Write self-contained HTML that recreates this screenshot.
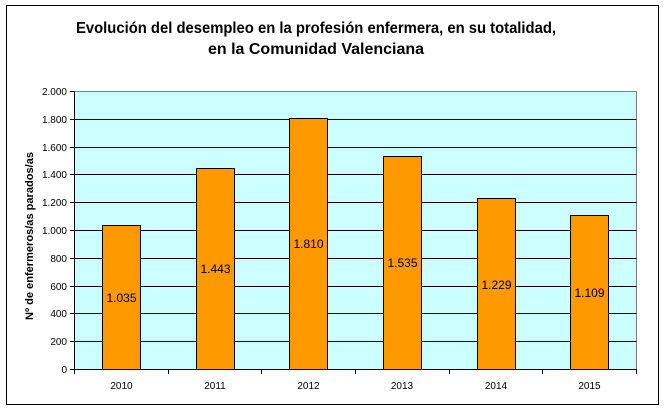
<!DOCTYPE html>
<html><head><meta charset="utf-8"><style>
html,body{margin:0;padding:0;background:#fff}
svg{display:block;font-family:"Liberation Sans",Arial,sans-serif}
</style></head><body>
<svg width="666" height="412" viewBox="0 0 666 412">
<rect x="6.5" y="5.5" width="652" height="399" fill="#fff" stroke="#000"/>
<text x="316" y="33" font-size="16" font-weight="bold" text-anchor="middle" textLength="480" lengthAdjust="spacingAndGlyphs">Evolución del desempleo en la profesión enfermera, en su totalidad,</text>
<text x="316" y="54" font-size="16" font-weight="bold" text-anchor="middle">en la Comunidad Valenciana</text>
<rect x="74.5" y="91.5" width="562" height="278" fill="#ccffff" stroke="#808080"/>
<g stroke="#000" stroke-width="1">
<line x1="74.5" x2="636.5" y1="119.5" y2="119.5"/>
<line x1="74.5" x2="636.5" y1="147.5" y2="147.5"/>
<line x1="74.5" x2="636.5" y1="174.5" y2="174.5"/>
<line x1="74.5" x2="636.5" y1="202.5" y2="202.5"/>
<line x1="74.5" x2="636.5" y1="230.5" y2="230.5"/>
<line x1="74.5" x2="636.5" y1="258.5" y2="258.5"/>
<line x1="74.5" x2="636.5" y1="286.5" y2="286.5"/>
<line x1="74.5" x2="636.5" y1="313.5" y2="313.5"/>
<line x1="74.5" x2="636.5" y1="341.5" y2="341.5"/>
<line x1="74.5" x2="74.5" y1="91.5" y2="369.5"/>
<line x1="74.5" x2="636.5" y1="369.5" y2="369.5"/>
</g>
<g stroke="#000">
<line x1="70" x2="74.5" y1="91.5" y2="91.5"/><line x1="70" x2="74.5" y1="119.5" y2="119.5"/>
<line x1="70" x2="74.5" y1="147.5" y2="147.5"/><line x1="70" x2="74.5" y1="174.5" y2="174.5"/>
<line x1="70" x2="74.5" y1="202.5" y2="202.5"/><line x1="70" x2="74.5" y1="230.5" y2="230.5"/>
<line x1="70" x2="74.5" y1="258.5" y2="258.5"/><line x1="70" x2="74.5" y1="286.5" y2="286.5"/>
<line x1="70" x2="74.5" y1="313.5" y2="313.5"/><line x1="70" x2="74.5" y1="341.5" y2="341.5"/>
<line x1="70" x2="74.5" y1="369.5" y2="369.5"/>
<line x1="74.5" x2="74.5" y1="369" y2="374"/><line x1="168.5" x2="168.5" y1="369" y2="374"/>
<line x1="261.5" x2="261.5" y1="369" y2="374"/><line x1="355.5" x2="355.5" y1="369" y2="374"/>
<line x1="449.5" x2="449.5" y1="369" y2="374"/><line x1="542.5" x2="542.5" y1="369" y2="374"/>
<line x1="636.5" x2="636.5" y1="369" y2="374"/>
</g>
<g font-size="10" text-anchor="end">
<text x="67" y="95">2.000</text><text x="67" y="123">1.800</text><text x="67" y="151">1.600</text>
<text x="67" y="178">1.400</text><text x="67" y="206">1.200</text><text x="67" y="234">1.000</text>
<text x="67" y="262">800</text><text x="67" y="290">600</text><text x="67" y="317">400</text>
<text x="67" y="345">200</text><text x="67" y="373">0</text>
</g>
<g font-size="10" text-anchor="middle">
<text x="121.5" y="389">2010</text><text x="215" y="389">2011</text><text x="308.5" y="389">2012</text>
<text x="402" y="389">2013</text><text x="496" y="389">2014</text><text x="589.5" y="389">2015</text>
</g>
<text transform="translate(33,236) rotate(-90)" font-size="11" font-weight="bold" text-anchor="middle" textLength="168" lengthAdjust="spacingAndGlyphs">Nº de enfermeros/as parados/as</text>
<g fill="#ff9900" stroke="#000">
<rect x="102.5" y="225.5" width="38" height="144"/>
<rect x="196.5" y="168.5" width="38" height="201"/>
<rect x="289.5" y="118.5" width="38" height="251"/>
<rect x="383.5" y="156.5" width="38" height="213"/>
<rect x="477.5" y="198.5" width="38" height="171"/>
<rect x="570.5" y="215.5" width="38" height="154"/>
</g>
<g font-size="12" text-anchor="middle">
<text x="121.5" y="302">1.035</text>
<text x="215.5" y="273">1.443</text>
<text x="308.5" y="248">1.810</text>
<text x="402.5" y="267">1.535</text>
<text x="496.5" y="289">1.229</text>
<text x="589.5" y="297">1.109</text>
</g>
</svg>
</body></html>
